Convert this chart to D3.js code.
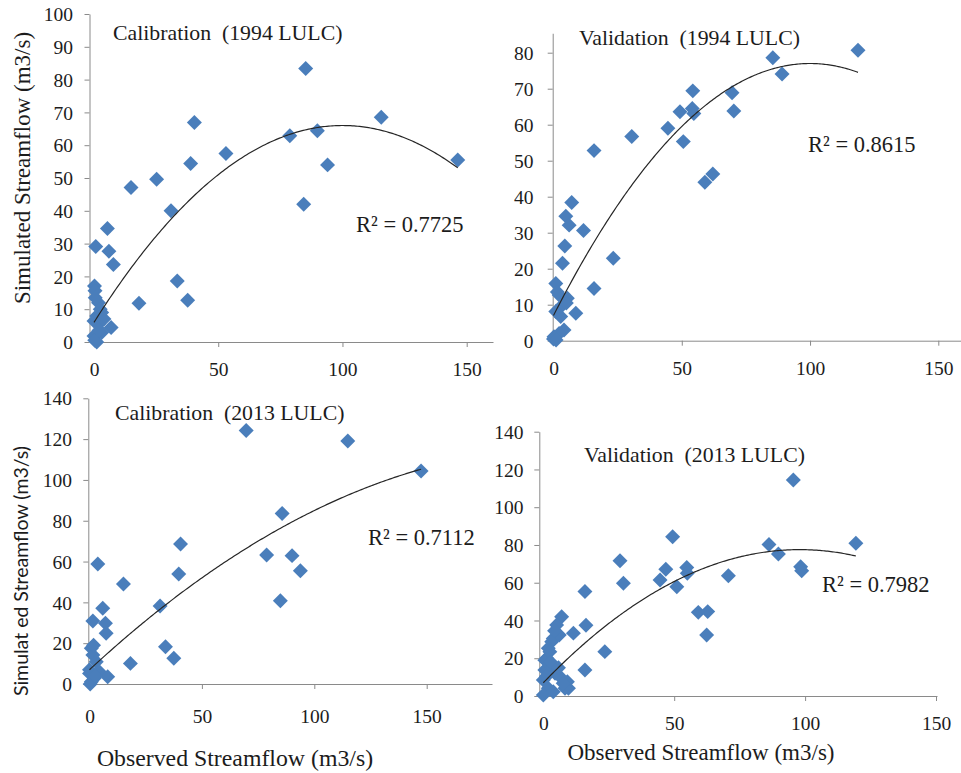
<!DOCTYPE html>
<html>
<head>
<meta charset="utf-8">
<script src="https://cdn.jsdelivr.net/npm/d3@7"></script>
<style>
  body { margin: 0; background: #fff; }
  svg { display: block; }
  text { font-family: "Liberation Serif", "Times New Roman", serif; fill: #1c1c1c; }
</style>
</head>
<body>
<svg id="chart" width="961" height="773"></svg>
<script>
// Observed vs simulated streamflow (m3/s) for the four model runs

// Calibration, 1994 land use
const cal94Obs = [85.2, 115.6, 146.4, 40.4, 38.9, 53.1, 78.8, 89.9, 94.0, 84.4, 14.9, 25.2, 31.0, 33.5, 37.7, 18.1,
  5.4, 6.0, 7.8, 0.7, 6.9, 0.2, 0.4, 1.8, 2.5, 1.1, 0.0, 1.8, 0.0, 1.1, 3.1, 3.1, 0.5, 2.0, 0.3, 4.0];
const cal94Sim = [83.4, 68.5, 55.5, 66.9, 54.4, 57.5, 62.9, 64.4, 54.0, 42.0, 47.1, 49.6, 40.0, 18.6, 12.7, 11.8,
  34.6, 27.7, 23.6, 29.1, 4.4, 17.1, 15.6, 12.0, 10.0, 7.9, 6.4, 5.4, 1.8, 0.0, 2.9, 9.0, 13.5, 3.5, 0.5, 7.0];

// Validation, 1994 land use
const val94Obs = [118.7, 85.5, 89.1, 69.6, 70.3, 54.3, 49.3, 54.1, 54.7, 50.6, 44.6, 30.5, 15.8, 59.0, 62.1, 23.3,
  11.7, 15.8, 7.1, 4.8, 6.1, 4.4, 3.5, 8.7, 0.9, 2.2, 5.4, 3.5, 0.9, 2.8, 4.1, 0.2, 2.2, 0.0, 1.0, 5.0, 1.5];
const val94Sim = [80.7, 78.6, 74.1, 68.9, 63.8, 69.4, 63.6, 64.5, 63.1, 55.3, 59.0, 56.7, 52.8, 44.0, 46.3, 22.9,
  30.6, 14.5, 38.4, 34.6, 32.1, 26.3, 21.5, 7.6, 15.9, 12.7, 11.8, 9.9, 8.1, 6.7, 3.0, 1.1, 2.0, 0.5, 0.2, 10.5, 13.5];

// Calibration, 2013 land use
const cal13Obs = [69.7, 114.9, 147.5, 85.7, 40.5, 39.7, 78.8, 90.1, 93.8, 84.9, 15.1, 31.4, 33.8, 37.5, 18.2, 3.7,
  5.9, 1.5, 7.1, 7.4, 0.8, 1.5, 3.0, 0.0, 4.4, 8.1, 0.8, 2.2, 0.0, 0.3, 1.8, 2.5];
const cal13Sim = [124.2, 119.1, 104.4, 83.6, 68.6, 53.9, 63.2, 62.9, 55.5, 40.8, 49.0, 38.2, 18.3, 12.6, 10.1, 58.8,
  37.1, 30.9, 29.8, 24.9, 17.5, 14.2, 10.9, 5.2, 6.0, 3.6, 1.1, 2.9, 7.0, 0.0, 19.0, 4.0];

// Validation, 2013 land use
const val13Obs = [95.5, 119.4, 86.2, 89.8, 98.3, 98.7, 70.7, 49.4, 46.8, 44.6, 51.0, 54.8, 55.0, 29.3, 30.6, 59.2,
  62.8, 62.4, 15.9, 16.3, 23.5, 11.5, 15.9, 7.0, 5.1, 3.8, 6.1, 3.2, 9.2, 9.6, 1.9, 1.3, 3.2, 0.6, 4.5, 6.4,
  0.0, 8.3, 1.9, 0.0, 3.8, 7.6, 0.6, 2.5, 4.3, 2.8, 1.2, 5.8];
const val13Sim = [114.4, 80.9, 80.3, 75.2, 68.5, 66.4, 63.7, 84.4, 67.1, 61.4, 57.9, 68.1, 65.0, 71.6, 59.7, 44.3,
  44.7, 32.3, 55.3, 37.5, 23.5, 33.3, 13.8, 42.0, 37.6, 30.5, 32.3, 28.8, 7.6, 4.1, 25.3, 20.0, 16.4, 13.8, 12.0, 10.2,
  8.5, 4.1, 4.1, 0.5, 2.3, 6.7, 19.0, 23.5, 34.5, 18.0, 10.5, 15.0];

// Second-order polynomial trendlines, y = a*x^2 + b*x + c
const cal94Trend = [-0.0060, 1.20, 6.0];
const val94Trend = [-0.0070, 1.40, 7.0];
const cal13Trend = [-0.0024, 1.02, 7.0];
const val13Trend = [-0.00735, 1.44, 7.0];

const panelTitles = ["Calibration  (1994 LULC)", "Validation  (1994 LULC)", "Calibration  (2013 LULC)", "Validation  (2013 LULC)"];
const r2Labels = ["R² = 0.7725", "R² = 0.8615", "R² = 0.7112", "R² = 0.7982"];
const xTicks = [0, 50, 100, 150];
const yTicksCal94 = [0, 10, 20, 30, 40, 50, 60, 70, 80, 90, 100];
const yTicksVal94 = [0, 10, 20, 30, 40, 50, 60, 70, 80];
const yTicks2013 = [0, 20, 40, 60, 80, 100, 120, 140];
const yAxisTitles = ["Simulated Streamflow (m3/s)", "Simulat ed Streamflow (m3/s)"];
const xAxisTitle = "Observed Streamflow (m3/s)";

// ---- panel placement on the page ----
const layout = [
  { x0: 94, x150: 466.7, yBase: 342, yRefPx: 14, yRefVal: 100, yAxisTop: 100, axisX: 89.5, xEnd: 493,
    xLabY: 376, yLabX: 73, titleX: 113, titleY: 40, r2X: 356, r2Y: 232 },
  { x0: 553.5, x150: 938.3, yBase: 340.7, yRefPx: 52.7, yRefVal: 80, yAxisTop: 85.4, axisX: 552.7, xEnd: 961,
    xLabY: 375, yLabX: 533.5, titleX: 579, titleY: 45, r2X: 808, r2Y: 152 },
  { x0: 89.5, x150: 426.7, yBase: 684, yRefPx: 398.3, yRefVal: 140, yAxisTop: 140, axisX: 88.3, xEnd: 492,
    xLabY: 723, yLabX: 72, titleX: 115, titleY: 420, r2X: 368, r2Y: 545 },
  { x0: 543.3, x150: 936, yBase: 696, yRefPx: 431.7, yRefVal: 140, yAxisTop: 140, axisX: 539.3, xEnd: 937,
    xLabY: 730, yLabX: 523.5, titleX: 584, titleY: 462, r2X: 822, r2Y: 592 }
];

const panels = [
  { obs: cal94Obs, sim: cal94Sim, trend: cal94Trend, yTicks: yTicksCal94 },
  { obs: val94Obs, sim: val94Sim, trend: val94Trend, yTicks: yTicksVal94 },
  { obs: cal13Obs, sim: cal13Sim, trend: cal13Trend, yTicks: yTicks2013 },
  { obs: val13Obs, sim: val13Sim, trend: val13Trend, yTicks: yTicks2013 }
];

const MARKER = "#4A7EBB";
const AXIS = "#8a8a8a";
const svg = d3.select("#chart");
const diamond = d3.symbol().type(d3.symbolSquare).size(112);

panels.forEach((p, i) => {
  const L = layout[i];
  const g = svg.append("g");
  const x = d3.scaleLinear().domain([0, 150]).range([L.x0, L.x150]);
  const y = d3.scaleLinear().domain([0, L.yRefVal]).range([L.yBase, L.yRefPx]);

  // vertical axis (line runs from 0 up to the axis maximum)
  const yAxisScale = y.copy().domain([0, L.yAxisTop]).range([y(0), y(L.yAxisTop)]);
  const ya = g.append("g").attr("transform", `translate(${L.axisX},0)`)
    .call(d3.axisLeft(yAxisScale).tickValues(p.yTicks).tickSize(5).tickSizeOuter(0).tickFormat(d3.format("d")));
  ya.select(".domain").attr("stroke", AXIS);
  ya.selectAll(".tick line").attr("stroke", AXIS);
  ya.selectAll(".tick text")
    .attr("x", L.yLabX - L.axisX).attr("dy", "0.34em")
    .style("font-size", "19.5px").attr("fill", "#1c1c1c")
    .attr("font-family", null);

  // horizontal axis
  const xAxisScale = x.copy().domain([x.invert(L.axisX), x.invert(L.xEnd)]).range([L.axisX, L.xEnd]);
  const xa = g.append("g").attr("transform", `translate(0,${L.yBase})`)
    .call(d3.axisBottom(xAxisScale).tickValues(xTicks).tickSize(5).tickSizeOuter(0).tickFormat(d3.format("d")));
  xa.select(".domain").attr("stroke", AXIS);
  xa.selectAll(".tick line").attr("stroke", AXIS).filter(d => d === 0).remove();
  xa.selectAll(".tick text")
    .attr("y", L.xLabY - L.yBase).attr("dy", null)
    .style("font-size", "19.5px").attr("fill", "#1c1c1c")
    .attr("font-family", null);

  // markers
  const pts = p.obs.map((o, k) => [o, p.sim[k]]);
  g.append("g").selectAll("path").data(pts).join("path")
    .attr("d", diamond)
    .attr("transform", d => `translate(${x(d[0])},${y(d[1])}) rotate(45)`)
    .attr("fill", MARKER);

  // polynomial trendline over the observed range
  const [a, b, c] = p.trend;
  const xmax = d3.max(p.obs);
  const curve = d3.range(0, 201).map(k => {
    const xv = xmax * k / 200;
    return [xv, a * xv * xv + b * xv + c];
  });
  g.append("path")
    .attr("d", d3.line().x(d => x(d[0])).y(d => y(d[1]))(curve))
    .attr("fill", "none").attr("stroke", "#262626").attr("stroke-width", 1.2);

  // panel title and goodness-of-fit label
  g.append("text").attr("x", L.titleX).attr("y", L.titleY)
    .style("font-size", "21.8px").style("white-space", "pre").text(panelTitles[i]);
  g.append("text").attr("x", L.r2X).attr("y", L.r2Y)
    .style("font-size", "22.5px").text(r2Labels[i]);
});

// axis titles
svg.append("text").attr("transform", "translate(30,168) rotate(-90)")
  .attr("text-anchor", "middle").style("font-size", "23px").text(yAxisTitles[0]);
svg.append("text").attr("transform", "translate(28,571) rotate(-90)")
  .attr("text-anchor", "middle")
  .style("font-family", "Lato, 'Open Sans', sans-serif").style("font-size", "19.5px").style("white-space", "pre")
  .text(yAxisTitles[1]);
svg.append("text").attr("x", 235).attr("y", 766)
  .attr("text-anchor", "middle").style("font-size", "23.8px").text(xAxisTitle);
svg.append("text").attr("x", 701).attr("y", 760)
  .attr("text-anchor", "middle").style("font-size", "23px").text(xAxisTitle);
</script>
</body>
</html>
